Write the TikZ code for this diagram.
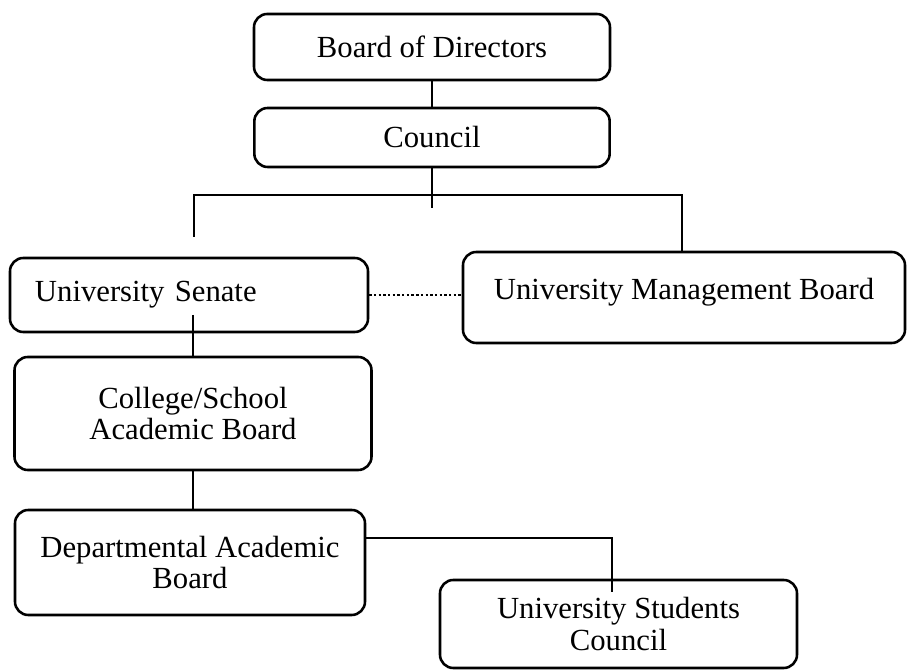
\documentclass[tikz,border=0pt]{standalone}
\usepackage{fontspec}
\setmainfont{Liberation Serif}
\usepackage{tikz}

\begin{document}
\begin{tikzpicture}[x=0.015cm, y=-0.015cm]
 \tikzset{
  orgBox/.style={draw, rounded corners=0.2cm, line width=1.1pt, align=center, inner sep=2pt, font={\fontsize{13.1}{13.6}\selectfont}},
  orgLine/.style={line width=0.8pt}
  }
  \useasboundingbox (0,0) rectangle (907,671);
  % top of the tree
  \node[orgBox, minimum width=5.34cm, minimum height=0.99cm] (board) at (432,47) {Board of Directors};
  \node[orgBox, minimum width=5.33cm, minimum height=0.885cm] (council) at (432,137.5) {Council};

  % second level
  \node[orgBox, text width=4.62cm, align=left, inner xsep=0.375cm, minimum height=1.11cm] (senate) at (189,295) {University Senate};
  \node[orgBox, minimum width=6.63cm, inner ysep=0pt, text height=0.72cm, text depth=0.645cm, anchor=base] (mgmt) at (684,300) {University Management Board};

  % academic boards
  \node[orgBox, minimum width=5.355cm, minimum height=1.695cm] (college) at (193,413.5) {College/School\\Academic Board};
  \node[orgBox, minimum width=5.25cm, minimum height=1.575cm] (dept) at (190,562.5) {Departmental Academic\\Board};
  \node[orgBox, minimum width=5.355cm, minimum height=1.32cm] (usc) at (618.5,624) {University Students\\Council};

  % connectors
  \coordinate (cStub) at (432,208);
  \coordinate (senTop) at (194,237);
  \coordinate (hR) at (682,195);
  \draw[orgLine] (board) -- (council);
  \draw[orgLine] (council) -- (cStub);
  \draw[orgLine] (senTop) |- (hR) -- (hR |- mgmt.north);
  \draw[orgLine, line width=1pt, densely dotted] (senate.east) -- (senate.east -| mgmt.west);

  \coordinate (senIn) at (193,315);
  \draw[orgLine] (senIn) -- (senIn |- college.north);
  \draw[orgLine] (college.south) -- (college.south |- dept.north);

  \coordinate (usJoin) at (612,538);
  \coordinate (usEnd) at (612,592);
  \draw[orgLine] (dept.east |- usJoin) -- (usJoin) -- (usEnd);
\end{tikzpicture}
\end{document}
